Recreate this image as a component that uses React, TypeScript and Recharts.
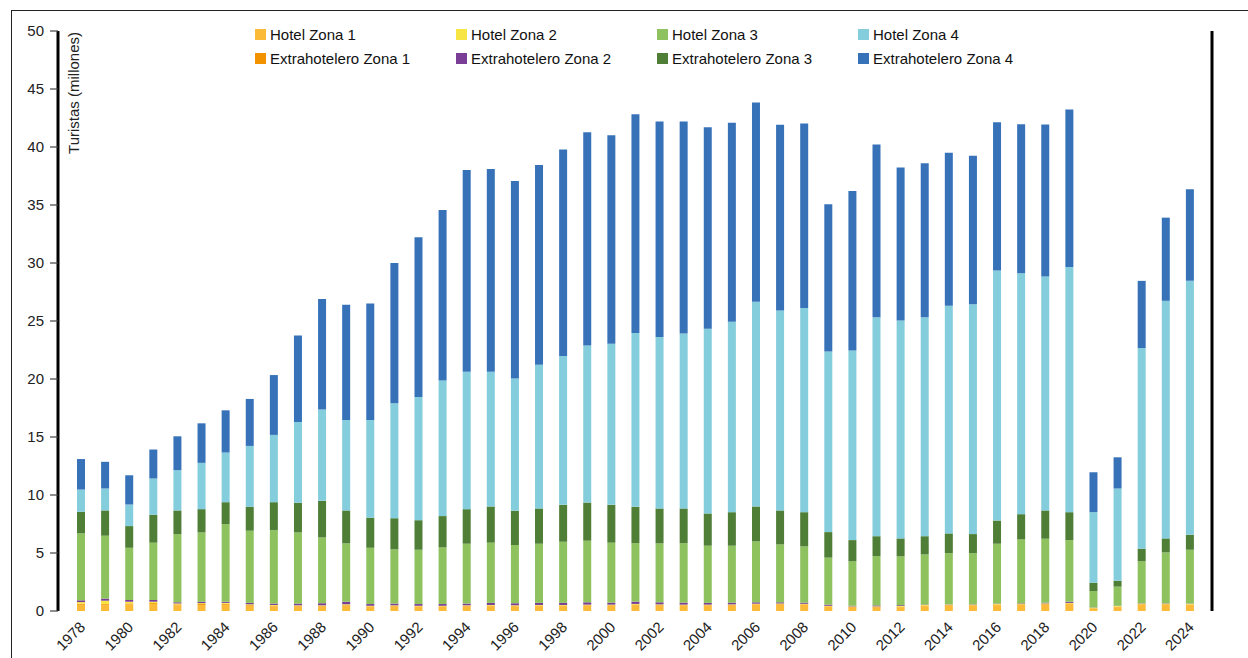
import React from 'react'
import { BarChart, Bar, XAxis, YAxis } from 'recharts'

const years = [
  '1978', '1979', '1980', '1981', '1982', '1983', '1984', '1985', '1986', '1987',
  '1988', '1989', '1990', '1991', '1992', '1993', '1994', '1995', '1996', '1997',
  '1998', '1999', '2000', '2001', '2002', '2003', '2004', '2005', '2006', '2007',
  '2008', '2009', '2010', '2011', '2012', '2013', '2014', '2015', '2016', '2017',
  '2018', '2019', '2020', '2021', '2022', '2023', '2024',
]

// millones de turistas
const hotelZ1 = [
  0.54, 0.51, 0.57, 0.6, 0.49, 0.52, 0.54, 0.46, 0.41, 0.39,
  0.39, 0.48, 0.35, 0.39, 0.35, 0.35, 0.39, 0.42, 0.4, 0.42,
  0.42, 0.45, 0.45, 0.51, 0.47, 0.45, 0.45, 0.47, 0.53, 0.55,
  0.52, 0.35, 0.3, 0.3, 0.33, 0.42, 0.46, 0.45, 0.51, 0.53,
  0.56, 0.6, 0.18, 0.33, 0.53, 0.53, 0.51,
]
const extraZ1 = [
  0.08, 0.08, 0.08, 0.08, 0.08, 0.08, 0.08, 0.06, 0.06, 0.05,
  0.05, 0.05, 0.05, 0.05, 0.05, 0.05, 0.05, 0.05, 0.05, 0.05,
  0.05, 0.05, 0.05, 0.05, 0.05, 0.05, 0.05, 0.05, 0.05, 0.05,
  0.05, 0.05, 0.05, 0.05, 0.05, 0.05, 0.05, 0.05, 0.05, 0.05,
  0.05, 0.05, 0.05, 0.05, 0.05, 0.05, 0.05,
]
const hotelZ2 = [
  0.15, 0.3, 0.15, 0.12, 0.08, 0.08, 0.08, 0.06, 0.05, 0.05,
  0.05, 0.05, 0.05, 0.05, 0.05, 0.05, 0.05, 0.05, 0.05, 0.05,
  0.05, 0.05, 0.05, 0.05, 0.05, 0.05, 0.05, 0.05, 0.05, 0.05,
  0.05, 0.05, 0.05, 0.05, 0.05, 0.05, 0.05, 0.05, 0.05, 0.05,
  0.05, 0.05, 0.05, 0.05, 0.06, 0.06, 0.06,
]
const extraZ2 = [
  0.15, 0.18, 0.15, 0.15, 0.1, 0.12, 0.1, 0.12, 0.12, 0.15,
  0.18, 0.22, 0.15, 0.15, 0.15, 0.15, 0.15, 0.18, 0.17, 0.18,
  0.18, 0.2, 0.17, 0.2, 0.18, 0.17, 0.15, 0.15, 0.12, 0.1,
  0.1, 0.1, 0.05, 0.08, 0.07, 0.03, 0.02, 0.03, 0.03, 0.04,
  0.06, 0.1, 0.02, 0.02, 0.03, 0.03, 0.02,
]
const hotelZ3 = [
  5.77, 5.42, 4.5, 4.94, 5.88, 5.97, 6.69, 6.22, 6.33, 6.13,
  5.67, 5.03, 4.85, 4.67, 4.68, 4.88, 5.16, 5.19, 5.01, 5.1,
  5.27, 5.31, 5.17, 5.04, 5.08, 5.13, 4.93, 4.91, 5.25, 4.99,
  4.85, 4.05, 3.83, 4.25, 4.21, 4.33, 4.41, 4.41, 5.16, 5.5,
  5.51, 5.31, 1.42, 1.65, 3.61, 4.38, 4.64,
]
const extraZ3 = [
  1.86, 2.18, 1.87, 2.41, 2.04, 2.01, 1.89, 2.06, 2.41, 2.56,
  3.16, 2.84, 2.59, 2.69, 2.55, 2.7, 2.98, 3.12, 2.96, 3.04,
  3.18, 3.29, 3.26, 3.13, 3.01, 2.99, 2.78, 2.89, 3.01, 2.93,
  2.95, 2.2, 1.83, 1.72, 1.55, 1.57, 1.7, 1.64, 2.0, 2.18,
  2.44, 2.41, 0.72, 0.51, 1.09, 1.21, 1.29,
]
const hotelZ4 = [
  1.92, 1.89, 1.86, 3.12, 3.47, 3.99, 4.28, 5.25, 5.8, 6.97,
  7.86, 7.8, 8.43, 9.9, 10.62, 11.7, 11.85, 11.62, 11.41, 12.39,
  12.83, 13.54, 13.89, 14.98, 14.77, 15.09, 15.92, 16.41, 17.64, 17.23,
  17.59, 15.58, 16.35, 18.88, 18.78, 18.88, 19.62, 19.82, 21.55, 20.77,
  20.16, 21.14, 6.08, 7.95, 17.3, 20.48, 21.89,
]
const extraZ4 = [
  2.63, 2.3, 2.52, 2.5, 2.92, 3.41, 3.64, 4.05, 5.16, 7.45,
  9.54, 9.93, 10.03, 12.1, 13.77, 14.69, 17.38, 17.47, 17.02, 17.21,
  17.81, 18.39, 17.98, 18.87, 18.59, 18.27, 17.38, 17.15, 17.19, 16.01,
  15.92, 12.68, 13.74, 14.89, 13.2, 13.26, 13.19, 12.79, 12.79, 12.85,
  13.11, 13.57, 3.44, 2.69, 5.79, 7.17, 7.89,
]

const yTicks = [0, 5, 10, 15, 20, 25, 30, 35, 40, 45, 50]

// orden de apilado (de abajo a arriba)
const series = [
  { key: 'hotelZ1', name: 'Hotel Zona 1', color: '#FBBA38' },
  { key: 'extraZ1', name: 'Extrahotelero Zona 1', color: '#F39200' },
  { key: 'hotelZ2', name: 'Hotel Zona 2', color: '#F7E544' },
  { key: 'extraZ2', name: 'Extrahotelero Zona 2', color: '#7A3E97' },
  { key: 'hotelZ3', name: 'Hotel Zona 3', color: '#8EC25F' },
  { key: 'extraZ3', name: 'Extrahotelero Zona 3', color: '#4F7E36' },
  { key: 'hotelZ4', name: 'Hotel Zona 4', color: '#84CDDC' },
  { key: 'extraZ4', name: 'Extrahotelero Zona 4', color: '#3772B9' },
]

const legendOrder = [
  'hotelZ1', 'hotelZ2', 'hotelZ3', 'hotelZ4',
  'extraZ1', 'extraZ2', 'extraZ3', 'extraZ4',
]

const data = years.map((year, i) => ({
  year,
  hotelZ1: hotelZ1[i],
  extraZ1: extraZ1[i],
  hotelZ2: hotelZ2[i],
  extraZ2: extraZ2[i],
  hotelZ3: hotelZ3[i],
  extraZ3: extraZ3[i],
  hotelZ4: hotelZ4[i],
  extraZ4: extraZ4[i],
}))

const font = '"Liberation Sans", Arial, sans-serif'

function YearTick(props: any) {
  const { x, y, payload } = props
  if (Number(payload.value) % 2 !== 0) return <g />
  const tx = x + 5
  const ty = y + 17
  return (
    <text
      x={tx}
      y={ty}
      transform={`rotate(-45, ${tx}, ${ty})`}
      textAnchor="end"
      fontSize={15}
      fill="#222"
      fontFamily={font}
    >
      {payload.value}
    </text>
  )
}

function LegendGrid() {
  return (
    <div
      style={{
        position: 'absolute',
        left: 255,
        top: 22,
        display: 'grid',
        gridTemplateColumns: 'repeat(4, 201px)',
        gridAutoRows: '24px',
        fontFamily: font,
        fontSize: 15,
        color: '#111',
      }}
    >
      {legendOrder.map((k) => {
        const s = series.find((d) => d.key === k)!
        return (
          <div key={k} style={{ display: 'flex', alignItems: 'center', whiteSpace: 'nowrap' }}>
            <span
              style={{
                display: 'inline-block',
                width: 11,
                height: 11,
                background: s.color,
                marginRight: 4,
              }}
            />
            {s.name}
          </div>
        )
      })}
    </div>
  )
}

export default function App() {
  return (
    <div style={{ position: 'absolute', left: 0, top: 0, width: 1248, height: 658, background: '#fff', overflow: 'hidden' }}>
      <div
        style={{
          position: 'absolute',
          left: 11,
          top: 10,
          width: 1300,
          height: 700,
          borderTop: '1.5px solid #222',
          borderLeft: '1.5px solid #222',
        }}
      />
      <BarChart
        width={1248}
        height={658}
        data={data}
        barSize={8}
        margin={{ top: 31, right: 0, bottom: 0, left: 0 }}
        style={{ position: 'absolute', left: 0, top: 0 }}
      >
        <XAxis
          dataKey="year"
          interval={0}
          axisLine={false}
          tickLine={false}
          tickSize={0}
          tickMargin={0}
          height={47}
          padding={{ left: 11, right: 10 }}
          tick={<YearTick />}
        />
        <YAxis
          yAxisId="left"
          domain={[0, 50]}
          ticks={yTicks}
          width={58}
          axisLine={{ stroke: '#000', strokeWidth: 3 }}
          tickLine={{ stroke: '#444', strokeWidth: 1.2 }}
          tickSize={8}
          tickMargin={6}
          tick={{ fill: '#222', fontSize: 15, fontFamily: font }}
          label={({ viewBox }: any) => (
            <text
              x={viewBox.x + viewBox.width + 21}
              y={viewBox.y + 1}
              transform={`rotate(-90, ${viewBox.x + viewBox.width + 21}, ${viewBox.y + 1})`}
              textAnchor="end"
              fontSize={15}
              fill="#222"
              fontFamily={font}
            >
              Turistas (millones)
            </text>
          )}
        />
        <YAxis
          yAxisId="right"
          orientation="right"
          domain={[0, 50]}
          ticks={yTicks}
          width={36}
          axisLine={{ stroke: '#000', strokeWidth: 3 }}
          tickLine={{ stroke: '#444', strokeWidth: 1.2 }}
          tickSize={8}
          tickMargin={7}
          tick={{ fill: '#222', fontSize: 15, fontFamily: font }}
        />
        {series.map((s) => (
          <Bar
            key={s.key}
            dataKey={s.key}
            name={s.name}
            stackId="t"
            yAxisId="left"
            fill={s.color}
            isAnimationActive={false}
          />
        ))}
      </BarChart>
      <LegendGrid />
    </div>
  )
}
